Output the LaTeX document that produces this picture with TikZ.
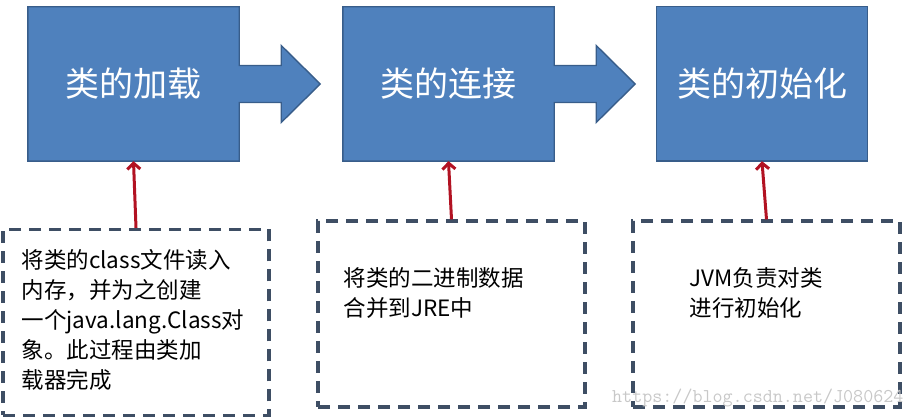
\documentclass[tikz,border=0pt]{standalone}
\usepackage{fontspec}
\setmainfont{Noto Sans CJK SC}
\usetikzlibrary{backgrounds,arrows.meta}

\definecolor{stageblue}{RGB}{79,129,189}
\definecolor{stageedge}{RGB}{56,93,138}
\definecolor{feedred}{RGB}{178,18,34}
\definecolor{noteedge}{RGB}{62,78,100}
\definecolor{markgray}{RGB}{200,200,200}

\tikzset{
  stage/.style={minimum width=211pt, minimum height=154pt, inner sep=0pt,
    text=white, font=\fontsize{34}{40}\selectfont},
  stageshape/.style={fill=stageblue, draw=stageedge, line width=1.4pt},
  note/.style={draw=noteedge, line width=3.2pt, dash pattern=on 12pt off 8pt,
    minimum width=266pt, minimum height=186pt, inner sep=0pt},
  notetext/.style={anchor=north west, align=left, inner sep=0pt,
    font=\fontsize{22.5}{30.2}\selectfont},
  feed/.style={-{Straight Barb[length=6pt,width=13pt]}, draw=feedred, line width=3pt},
  watermark/.style={anchor=west, inner sep=0pt, text=markgray,
    font=\ttfamily\fontsize{19.5}{22}\selectfont}
}

\begin{document}
\begin{tikzpicture}[x=1pt,y=1pt]
\useasboundingbox (0,0) rectangle (914,417);

% the three stages
\node[stage] (load) at (133.5,333) {类的加载};
\node[stage] (link) at (448.5,333) {类的连接};
\node[stage] (init) at (762,333) {类的初始化};

\begin{scope}[on background layer]
\draw[stageshape] (load.north west) -- (load.north east) -- ([yshift=18.5pt]load.east)
  -- ++(42,0) -- ++(0,20) -- ++(39,-38.5) -- ++(-39,-38.5) -- ++(0,20) -- ++(-42,0)
  -- (load.south east) -- (load.south west) -- cycle;
\draw[stageshape] (link.north west) -- (link.north east) -- ([yshift=18.5pt]link.east)
  -- ++(42,0) -- ++(0,20) -- ++(39,-38.5) -- ++(-39,-38.5) -- ++(0,20) -- ++(-42,0)
  -- (link.south east) -- (link.south west) -- cycle;
\draw[stageshape] (init.north west) rectangle (init.south east);
\end{scope}

% notes below
\node[note] (loadnote) at (136,94.5) {};
\node[note, minimum width=267pt] (linknote) at (451.5,103) {};
\node[note, minimum width=267pt] (initnote) at (766.5,103) {};

\node[notetext] (loadtxt) at ([shift={(20,-21)}]loadnote.north west)
  {将类的class文件读入\\内存，并为之创建\\一个java.lang.Class对\\象。此过程由类加\\载器完成};
\node[notetext] (linktxt) at ([shift={(27,-48)}]linknote.north west)
  {将类的二进制数据\\合并到JRE中};
\node[notetext] (inittxt) at ([shift={(58,-48)}]initnote.north west)
  {JVM负责对类\\进行初始化};

\draw[feed] (loadnote.north) -- (load.south);
\draw[feed] (linknote.north) -- (link.south);
\draw[feed] (initnote.north) -- (init.south);

\node[watermark] (mark) at (612,19) {https://blog.csdn.net/J080624};
\end{tikzpicture}
\end{document}
